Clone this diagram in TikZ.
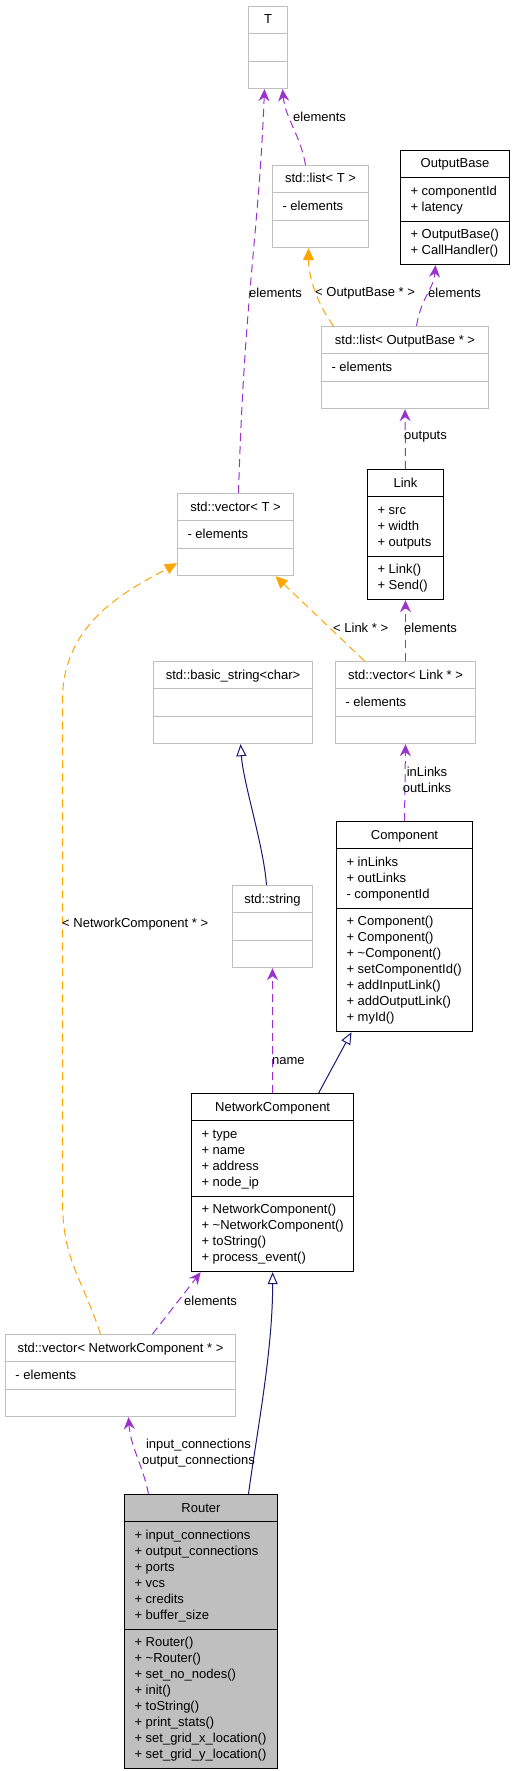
\documentclass[tikz,border=0pt]{standalone}
\usepackage{fontspec}
\setmainfont{Liberation Sans}
\usetikzlibrary{shapes.multipart,arrows.meta}
\definecolor{usepurple}{HTML}{9A32CD}
\definecolor{instorange}{HTML}{FFA500}
\definecolor{inhblue}{HTML}{191970}
\definecolor{boxgray}{HTML}{BFBFBF}
\newcommand{\dstrut}{\rule[-4.2pt]{0pt}{16pt}}
\tikzset{
  cls/.style={rectangle split, rectangle split parts=3, line width=1pt,
    inner xsep=10pt, inner ysep=5.2pt, anchor=north west, align=left,
    rectangle split part align={center,left,left}},
  tmpl/.style={cls, draw=boxgray},
  klass/.style={cls, draw=black},
  focus/.style={klass, fill=boxgray},
  use/.style={draw=usepurple, line width=1pt, dash pattern=on 8pt off 5pt,
    -{Stealth[length=12pt,width=11pt,inset=4pt]}},
  inst/.style={draw=instorange, line width=1pt, dash pattern=on 8pt off 5pt,
    -{Triangle[length=12pt,width=11pt]}},
  inh/.style={draw=inhblue, line width=1pt,
    -{Triangle[open,length=12pt,width=10pt,fill=white]}},
  lbl/.style={inner sep=0pt, anchor=west}
}
\begin{document}
\begin{tikzpicture}[x=1pt, y=-1pt, font=\fontsize{13}{16}\selectfont]
\useasboundingbox (0,0) rectangle (513,1771);
% class boxes
\node[tmpl, minimum width=39pt] (T) at (248,6) {\dstrut T \nodepart{two}\dstrut \nodepart{three}\dstrut};
\node[tmpl, minimum width=96pt] (listT) at (272,165) {\dstrut std::list< T > \nodepart{two}\dstrut - elements \nodepart{three}\dstrut};
\node[klass, minimum width=109pt] (outB) at (400,150) {\dstrut OutputBase
  \nodepart{two}\dstrut + componentId\\+ latency\dstrut
  \nodepart{three}\dstrut + OutputBase()\\+ CallHandler()\dstrut};
\node[tmpl, minimum width=167pt] (listOB) at (321,326) {\dstrut std::list< OutputBase * > \nodepart{two}\dstrut - elements \nodepart{three}\dstrut};
\node[tmpl, minimum width=116pt] (vecT) at (177,493) {\dstrut std::vector< T > \nodepart{two}\dstrut - elements \nodepart{three}\dstrut};
\node[klass, minimum width=76pt] (link) at (367,469) {\dstrut Link
  \nodepart{two}\dstrut + src\\+ width\\+ outputs\dstrut
  \nodepart{three}\dstrut + Link()\\+ Send()\dstrut};
\node[tmpl, minimum width=159pt] (bstr) at (153,661) {\dstrut std::basic\_string<char> \nodepart{two}\dstrut \nodepart{three}\dstrut};
\node[tmpl, minimum width=140pt] (vecLink) at (335,661) {\dstrut std::vector< Link * > \nodepart{two}\dstrut - elements \nodepart{three}\dstrut};
\node[klass, minimum width=136pt] (comp) at (336,821) {\dstrut Component
  \nodepart{two}\dstrut + inLinks\\+ outLinks\\- componentId\dstrut
  \nodepart{three}\dstrut + Component()\\+ Component()\\+ \textasciitilde Component()\\+ setComponentId()\\+ addInputLink()\\+ addOutputLink()\\+ myId()\dstrut};
\node[tmpl, minimum width=80pt] (str) at (232,885) {\dstrut std::string \nodepart{two}\dstrut \nodepart{three}\dstrut};
\node[klass, minimum width=162pt] (netc) at (191,1093) {\dstrut NetworkComponent
  \nodepart{two}\dstrut + type\\+ name\\+ address\\+ node\_ip\dstrut
  \nodepart{three}\dstrut + NetworkComponent()\\+ \textasciitilde NetworkComponent()\\+ toString()\\+ process\_event()\dstrut};
\node[tmpl, minimum width=230pt] (vecNC) at (5,1334) {\dstrut std::vector< NetworkComponent * > \nodepart{two}\dstrut - elements \nodepart{three}\dstrut};
\node[focus, minimum width=153pt] (router) at (124,1494) {\dstrut Router
  \nodepart{two}\dstrut + input\_connections\\+ output\_connections\\+ ports\\+ vcs\\+ credits\\+ buffer\_size\dstrut
  \nodepart{three}\dstrut + Router()\\+ \textasciitilde Router()\\+ set\_no\_nodes()\\+ init()\\+ toString()\\+ print\_stats()\\+ set\_grid\_x\_location()\\+ set\_grid\_y\_location()\dstrut};
% usage edges
\foreach \u/\v in {link/listOB, vecLink/link, comp/vecLink, netc/str} \draw[use] (\u.north) -- (\v.south);
\draw[use] ([xshift=3pt]vecT.north) .. controls +(6,-200) and +(-6,150) .. ([xshift=-3.5pt]T.south);
\draw[use] ([xshift=-15pt]listT.north) .. controls +(-5,-30) and +(3,30) .. ([xshift=14.5pt]T.south);
\draw[use] ([xshift=11.5pt]listOB.north) .. controls +(5,-30) and +(-2,25) .. ([xshift=-19.5pt]outB.south);
\draw[use] ([xshift=32pt]vecNC.north) -- ([xshift=-72pt]netc.south);
\draw[use] ([xshift=-52.5pt]router.north) .. controls +(-6,-30) and +(2,30) .. ([xshift=8pt]vecNC.south);
% template instances
\draw[inst] ([xshift=-71.5pt]listOB.north) .. controls +(-15,-20) and +(0,30) .. ([xshift=-12pt]listT.south);
\draw[inst] ([xshift=-41pt]vecLink.north) -- ([xshift=40pt]vecT.south);
\draw[inst] ([xshift=-20pt]vecNC.north) .. controls +(-20,-60) and +(0,60) .. ++(-38,-134)
  -- ++(0,-500) .. controls +(0,-80) and +(-45,25) .. ([yshift=13pt]vecT.south west);
% inheritance
\draw[inh] ([xshift=-6pt]str.north) .. controls +(-3,-40) and +(3,40) .. ([xshift=7.5pt]bstr.south);
\draw[inh] ([xshift=46pt]netc.north) -- ([xshift=-53pt]comp.south);
\draw[inh] ([xshift=47.5pt]router.north) .. controls +(8,-60) and +(0,80) .. (netc.south);
% edge labels
\node[lbl] (l1) at (249,293) {elements};
\node[lbl] (l2) at (293,117) {elements};
\node[lbl] (l3) at (315,293) {< OutputBase * >};
\node[lbl] (l4) at (428,293) {elements};
\node[lbl] (l5) at (404,437) {outputs};
\node[lbl] (l6) at (404,628) {elements};
\node[lbl] (l7) at (333,628) {< Link * >};
\node[lbl] (l8) at (62,924) {< NetworkComponent * >};
\node[inner sep=0pt, align=center] (l9) at (427,780) {inLinks\\outLinks};
\node[lbl] (l10) at (272,1061) {name};
\node[lbl] (l11) at (184,1301) {elements};
\node[inner sep=0pt, align=center] (l12) at (198.5,1453) {input\_connections\\output\_connections};
\end{tikzpicture}
\end{document}
